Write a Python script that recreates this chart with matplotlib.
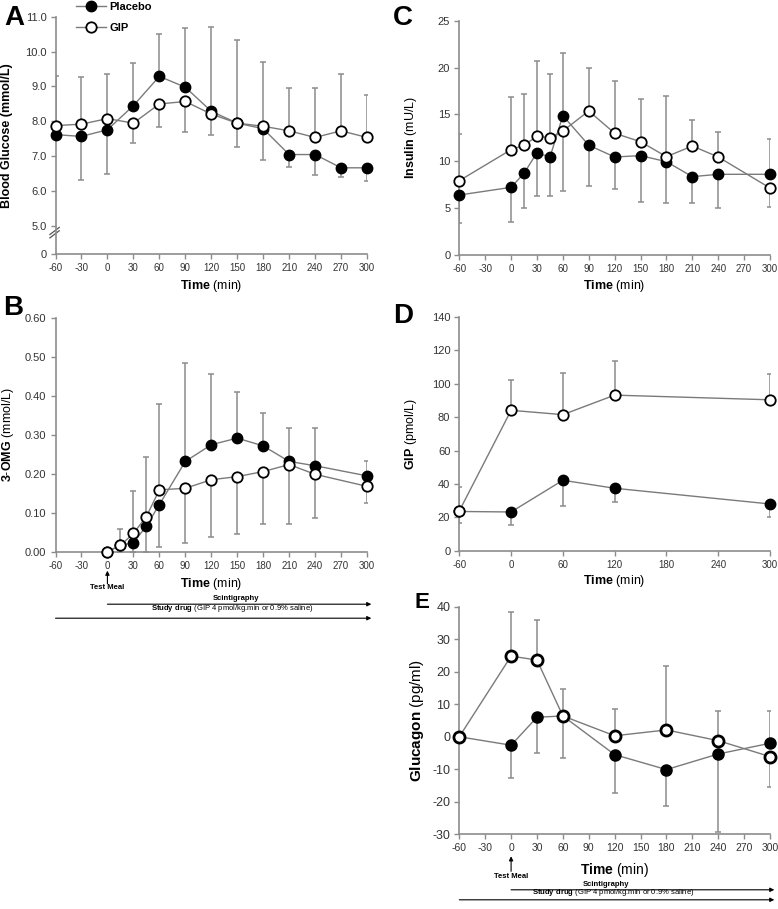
import numpy as np
import matplotlib
matplotlib.use('Agg')
import matplotlib.pyplot as plt
from matplotlib.lines import Line2D

plt.rcParams['font.family'] = ['Liberation Sans', 'DejaVu Sans']
plt.rcParams['mathtext.fontset'] = 'custom'
plt.rcParams['mathtext.rm'] = 'Liberation Sans'
plt.rcParams['mathtext.bf'] = 'Liberation Sans:bold'

FIG_W, FIG_H = 778, 909
GREY = '#8c8c8c'
LINE = '#7a7a7a'
NARROW = ['Liberation Sans Narrow', 'Liberation Sans']

# A - blood glucose (mmol/L)
t_a = [-60, -30, 0, 30, 60, 90, 120, 150, 180, 210, 240, 270, 300]
glu_placebo = [7.62, 7.57, 7.76, 8.45, 9.29, 8.98, 8.29, 7.95, 7.79, 7.05, 7.05, 6.67, 6.67]
glu_gip = [7.88, 7.92, 8.08, 7.95, 8.50, 8.57, 8.21, 7.95, 7.86, 7.73, 7.54, 7.73, 7.54]
glu_hi = [9.30, 9.27, 9.36, 9.67, 10.50, 10.69, 10.71, 10.33, 9.71, 8.95, 8.95, 9.36, 8.76]
glu_lo = [7.62, 6.33, 6.48, 7.38, 7.83, 7.69, 7.62, 7.26, 6.88, 6.69, 6.46, 6.40, 6.30]

# B - 3-OMG (mmol/L)
t_b = [0, 15, 30, 45, 60, 90, 120, 150, 180, 210, 240, 300]
omg_placebo = [0.0, 0.017, 0.023, 0.066, 0.121, 0.232, 0.275, 0.292, 0.272, 0.232, 0.221, 0.195]
omg_gip = [0.0, 0.016, 0.047, 0.090, 0.159, 0.163, 0.185, 0.193, 0.206, 0.224, 0.199, 0.168]
omg_hi = [0.0, 0.058, 0.157, 0.244, 0.380, 0.486, 0.458, 0.410, 0.356, 0.317, 0.319, 0.232]
omg_lo = [0.0, 0.0, 0.0, 0.0, 0.012, 0.022, 0.038, 0.046, 0.072, 0.071, 0.086, 0.125]

# C - insulin (mU/L)
t_c = [-60, 0, 15, 30, 45, 60, 90, 120, 150, 180, 210, 240, 300]
ins_placebo = [6.40, 7.22, 8.72, 10.92, 10.43, 14.87, 11.71, 10.46, 10.60, 9.96, 8.36, 8.61, 8.61]
ins_gip = [7.93, 11.24, 11.71, 12.67, 12.52, 13.23, 15.37, 12.99, 12.09, 10.49, 11.63, 10.46, 7.15]
ins_hi = [12.91, 16.90, 17.15, 20.74, 19.28, 21.59, 19.92, 18.60, 16.62, 16.97, 14.41, 13.16, 12.34]
ins_lo = [3.45, 3.56, 4.98, 6.33, 6.26, 6.83, 7.36, 7.01, 5.69, 5.51, 5.51, 4.98, 5.16]

# D - GIP (pmol/L)
t_d = [-60, 0, 60, 120, 300]
gip_placebo = [23.5, 23.2, 42.2, 37.4, 28.0]
gip_gip = [23.8, 84.1, 81.5, 93.2, 90.4]
gip_hi = [38.0, 102.0, 106.4, 113.6, 106.0]
gip_lo = [16.4, 15.4, 27.0, 29.2, 20.0]

# E - glucagon (pg/ml)
t_e = [-60, 0, 30, 60, 120, 180, 240, 300]
glc_placebo = [0.0, -2.6, 6.0, 6.4, -5.5, -10.1, -5.3, -2.0]
glc_gip = [0.0, 24.8, 23.6, 6.4, 0.3, 2.1, -1.2, -6.1]
glc_hi = [0.0, 38.3, 36.0, 14.6, 8.6, 21.8, 7.8, 7.9]
glc_lo = [0.0, -12.7, -5.1, -6.6, -17.2, -21.3, -29.3, -15.5]

x_ticks = list(range(-60, 301, 30))
x_ticks_d = list(range(-60, 301, 60))


def px_box(left, top, right, bottom):
    return [left / FIG_W, 1 - bottom / FIG_H, (right - left) / FIG_W, (bottom - top) / FIG_H]


def draw_panel(ax, t, placebo, gip, hi, lo, ms=7.5, mew=1.3):
    t = np.asarray(t, float)
    p = np.asarray(placebo, float)
    g = np.asarray(gip, float)
    hi = np.asarray(hi, float)
    lo = np.asarray(lo, float)
    # upper curve gets the upward bar, lower curve the downward one
    p_top = p >= g
    p_err = [np.where(p_top, 0, p - lo), np.where(p_top, hi - p, 0)]
    g_err = [np.where(p_top, g - lo, 0), np.where(p_top, 0, hi - g)]
    for y, err in ((p, p_err), (g, g_err)):
        ax.errorbar(t, y, yerr=err, fmt='none', ecolor=GREY, elinewidth=1.1,
                    capsize=2.5, capthick=1.1, zorder=1)
    ax.plot(t, p, '-o', color=LINE, lw=1.0, mfc='black', mec='black', ms=ms,
            zorder=3, clip_on=False)
    ax.plot(t, g, '-o', color=LINE, lw=1.0, mfc='white', mec='black', ms=ms,
            mew=mew, zorder=4, clip_on=False)


def style_axes(ax, xticks, xsize=7, ysize=8):
    for s in ('top', 'right'):
        ax.spines[s].set_visible(False)
    for s in ('left', 'bottom'):
        ax.spines[s].set_color(GREY)
        ax.spines[s].set_linewidth(1.2)
    ax.tick_params(direction='out', length=3.5, width=1, color=GREY,
                   labelcolor='#333333', pad=3)
    ax.set_xlim(-60, 300)
    ax.set_xticks(xticks, labels=[str(v) for v in xticks], fontsize=xsize, family=NARROW)
    for lab in ax.get_yticklabels():
        lab.set_fontsize(ysize)


def add_protocol(ax, offsets, scint_x, drug_x):
    # offsets: pixel distances below the x axis for the annotation rows
    tip, tail, meal, scint_txt, scint_line, drug_txt, drug_line = offsets
    h = ax.get_position().height * FIG_H
    tr = ax.get_xaxis_transform()

    def f(px):
        return -px / h

    arrow = dict(arrowstyle='-|>', color='black', lw=0.8, mutation_scale=6,
                 shrinkA=0, shrinkB=0)
    ax.annotate('', xy=(0, f(tip)), xytext=(0, f(tail)), xycoords=tr, textcoords=tr,
                arrowprops=arrow, annotation_clip=False)
    ax.text(0, f(meal), 'Test Meal', transform=tr, ha='center', va='center',
            fontsize=5.5, fontweight='bold')
    ax.text(scint_x, f(scint_txt), 'Scintigraphy', transform=tr, ha='center',
            va='bottom', fontsize=5.5, fontweight='bold')
    ax.annotate('', xy=(305, f(scint_line)), xytext=(0, f(scint_line)), xycoords=tr,
                textcoords=tr, arrowprops=arrow, annotation_clip=False)
    ax.text(drug_x, f(drug_txt), r'$\mathbf{Study\ drug}$ (GIP 4 pmol/kg.min or 0.9% saline)',
            transform=tr, ha='center', va='bottom', fontsize=5.5)
    ax.annotate('', xy=(305, f(drug_line)), xytext=(-60, f(drug_line)), xycoords=tr,
                textcoords=tr, arrowprops=arrow, annotation_clip=False)


fig = plt.figure(figsize=(FIG_W / 100, FIG_H / 100), dpi=100)
ax_a = fig.add_axes(px_box(55.5, 16.7, 367, 254))
ax_b = fig.add_axes(px_box(55.5, 318.3, 367, 551.7))
ax_c = fig.add_axes(px_box(459.3, 20.7, 770, 255))
ax_d = fig.add_axes(px_box(459.3, 317, 770, 550.7))
ax_e = fig.add_axes(px_box(459.3, 606.7, 770, 834.3))

time_label = r'$\mathbf{Time}$ (min)'

# A
draw_panel(ax_a, t_a, glu_placebo, glu_gip, glu_hi, glu_lo)
ax_a.set_ylim(4.2, 11.0)
ax_a.set_yticks([4.2, 5, 6, 7, 8, 9, 10, 11],
                labels=['0', '5.0', '6.0', '7.0', '8.0', '9.0', '10.0', '11.0'])
style_axes(ax_a, x_ticks)
for d in (0.0, 0.014):
    ax_a.plot([-0.018, 0.012], [0.068 + d, 0.098 + d], transform=ax_a.transAxes,
              color='#555555', lw=0.9, clip_on=False)
ax_a.set_ylabel('Blood Glucose (mmol/L)', fontsize=9, fontweight='bold')
ax_a.yaxis.set_label_coords(-0.135, 0.5)
ax_a.set_xlabel(time_label, fontsize=9)
ax_a.xaxis.set_label_coords(0.5, -0.102)

# B
draw_panel(ax_b, t_b, omg_placebo, omg_gip, omg_hi, omg_lo)
ax_b.set_ylim(0, 0.6)
ax_b.set_yticks(np.arange(0, 0.61, 0.1), labels=['%.2f' % v for v in np.arange(0, 0.61, 0.1)])
style_axes(ax_b, x_ticks)
ax_b.set_ylabel(r'$\mathbf{3\text{-}OMG}$ (mmol/L)', fontsize=9)
ax_b.yaxis.set_label_coords(-0.128, 0.5)
ax_b.set_xlabel(time_label, fontsize=9)
ax_b.xaxis.set_label_coords(0.5, -0.102)
add_protocol(ax_b, (19, 32, 36, 50, 52.5, 62.5, 66.5), 149, 144)

# C
draw_panel(ax_c, t_c, ins_placebo, ins_gip, ins_hi, ins_lo)
ax_c.set_ylim(0, 25)
ax_c.set_yticks(range(0, 26, 5), labels=[str(v) for v in range(0, 26, 5)])
style_axes(ax_c, x_ticks)
ax_c.set_ylabel(r'$\mathbf{Insulin}$ (mU/L)', fontsize=9)
ax_c.yaxis.set_label_coords(-0.13, 0.5)
ax_c.set_xlabel(time_label, fontsize=9)
ax_c.xaxis.set_label_coords(0.5, -0.1)

# D
draw_panel(ax_d, t_d, gip_placebo, gip_gip, gip_hi, gip_lo)
ax_d.set_ylim(0, 140)
ax_d.set_yticks(range(0, 141, 20), labels=[str(v) for v in range(0, 141, 20)])
style_axes(ax_d, x_ticks_d)
ax_d.set_ylabel(r'$\mathbf{GIP}$ (pmol/L)', fontsize=9)
ax_d.yaxis.set_label_coords(-0.13, 0.5)
ax_d.set_xlabel(time_label, fontsize=9)
ax_d.xaxis.set_label_coords(0.5, -0.095)

# E
draw_panel(ax_e, t_e, glc_placebo, glc_gip, glc_hi, glc_lo, ms=8, mew=2.0)
ax_e.set_ylim(-30, 40)
ax_e.set_yticks(range(-30, 41, 10), labels=[str(v) for v in range(-30, 41, 10)])
style_axes(ax_e, x_ticks, xsize=7.5, ysize=9)
ax_e.set_ylabel(r'$\mathbf{Glucagon}$ (pg/ml)', fontsize=11)
ax_e.yaxis.set_label_coords(-0.107, 0.5)
ax_e.set_xlabel(time_label, fontsize=10)
ax_e.xaxis.set_label_coords(0.5, -0.118)
add_protocol(ax_e, (22, 37, 42, 53.5, 55.5, 63.5, 65.5), 110, 118)

# legend
handles = [
    Line2D([], [], color=LINE, lw=1.0, marker='o', mfc='black', mec='black', ms=7.5),
    Line2D([], [], color=LINE, lw=1.0, marker='o', mfc='white', mec='black', ms=7.5, mew=1.3),
]
fig.legend(handles, ['Placebo', 'GIP'], loc='upper left',
           bbox_to_anchor=(76 / FIG_W, 1 - 2 / FIG_H),
           frameon=False, prop={'weight': 'bold', 'size': 8}, handlelength=2.7,
           handletextpad=0.3, labelspacing=1.0, borderpad=0, borderaxespad=0)

# panel letters
for letter, x, y, size in (('A', 4, 25, 20), ('B', 3, 315, 20), ('C', 393, 25, 20),
                           ('D', 393, 323, 20), ('E', 415, 608, 16)):
    fig.text(x / FIG_W, 1 - y / FIG_H, letter, fontsize=size, fontweight='bold',
             va='baseline', ha='left')

fig.savefig('out.png', dpi=100)
